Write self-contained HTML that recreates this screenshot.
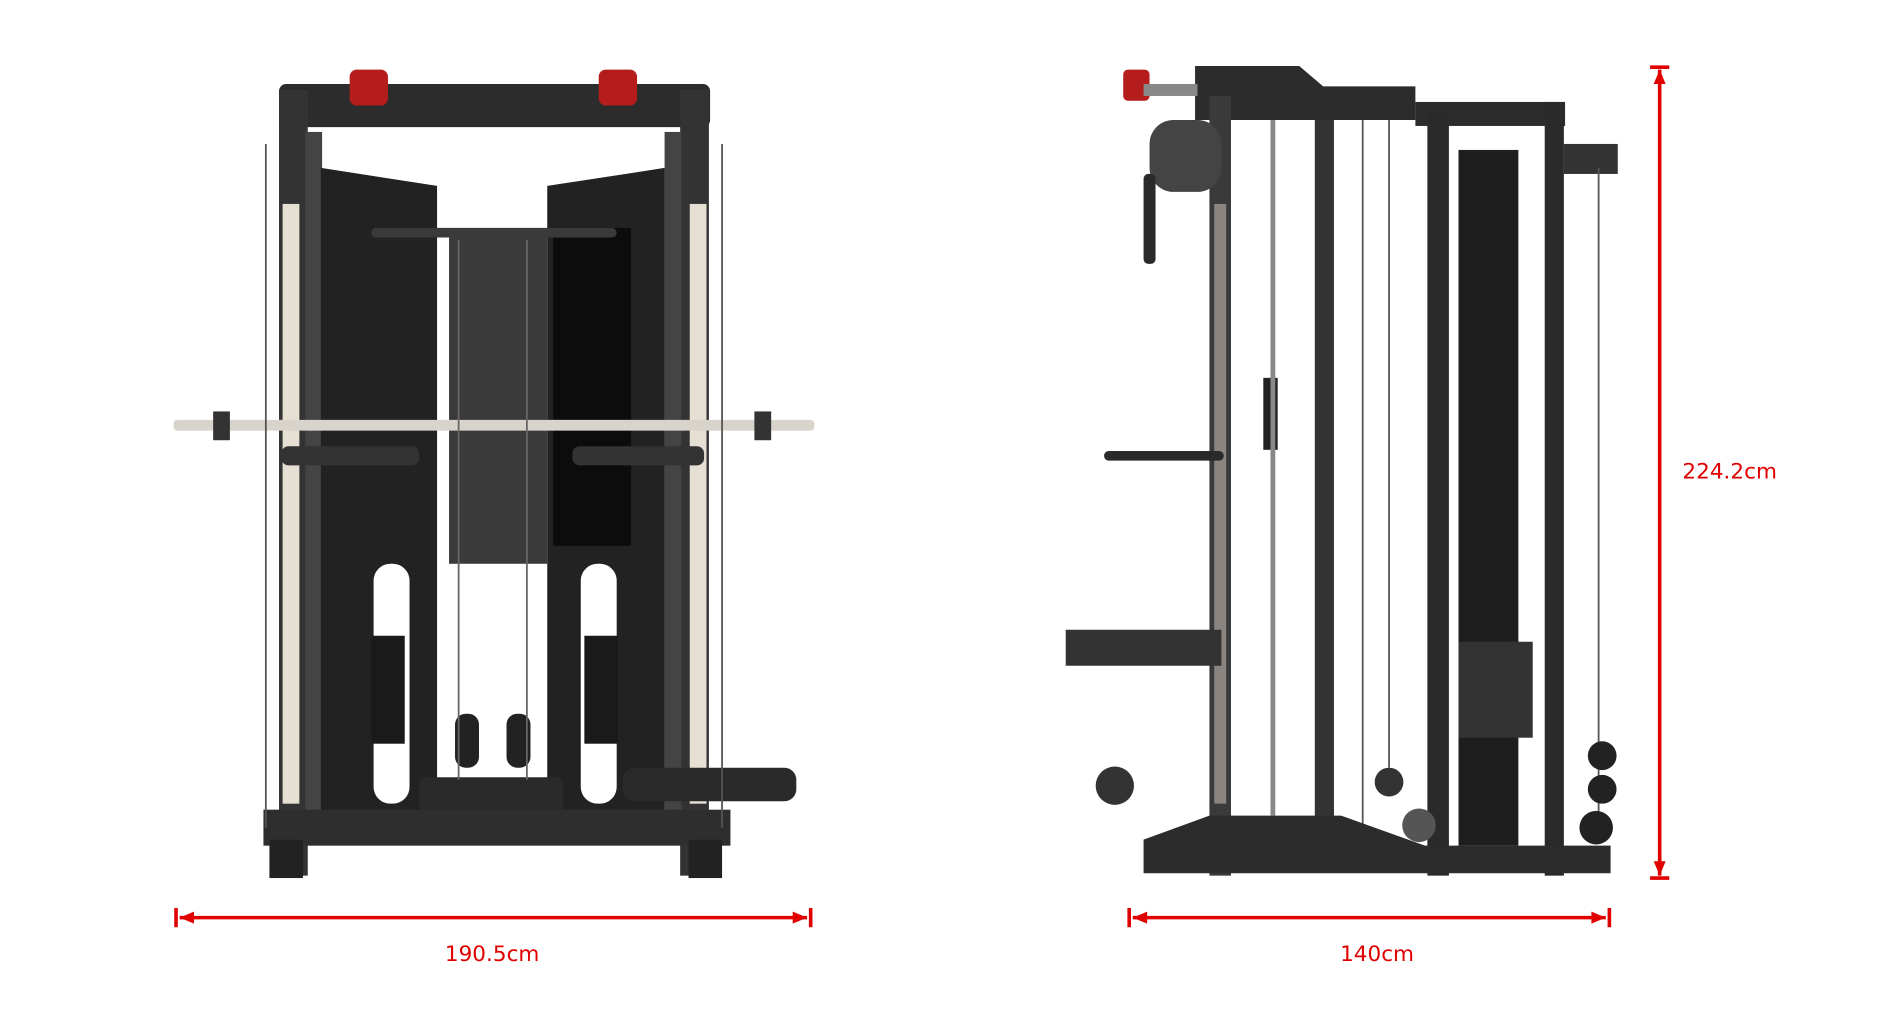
<!DOCTYPE html>
<html><head><meta charset="utf-8"><style>
html,body{margin:0;padding:0;background:#fff;width:1880px;height:1010px;overflow:hidden}
svg{display:block}
text{font-family:"DejaVu Sans","Liberation Sans",sans-serif;fill:#e00000;font-size:18px}
</style></head><body>
<svg width="1880" height="1010" viewBox="0 0 1570 842" preserveAspectRatio="none" xmlns="http://www.w3.org/2000/svg">
<!-- LEFT MACHINE -->
<g>
<rect x="233" y="70" width="360" height="36" rx="6" fill="#2c2c2c"/>
<rect x="292" y="58" width="32" height="30" rx="6" fill="#b51c1c"/>
<rect x="500" y="58" width="32" height="30" rx="6" fill="#b51c1c"/>
<rect x="233" y="75" width="24" height="655" fill="#333"/>
<rect x="568" y="75" width="24" height="655" fill="#333"/>
<rect x="236" y="170" width="14" height="500" fill="#e6e0d4"/>
<rect x="576" y="170" width="14" height="500" fill="#e6e0d4"/>
<rect x="255" y="110" width="14" height="590" fill="#444"/>
<rect x="555" y="110" width="14" height="590" fill="#444"/>
<polygon points="268,140 365,155 365,700 268,700" fill="#222"/>
<polygon points="457,155 555,140 555,700 457,700" fill="#222"/>
<rect x="462" y="190" width="65" height="265" fill="#0c0c0c"/>
<rect x="375" y="195" width="82" height="275" fill="#3a3a3a"/>
<rect x="310" y="190" width="205" height="8" rx="4" fill="#3a3a3a"/>
<rect x="145" y="350" width="535" height="9" rx="3" fill="#d8d4cc"/>
<rect x="178" y="343" width="14" height="24" fill="#333"/>
<rect x="630" y="343" width="14" height="24" fill="#333"/>
<rect x="235" y="372" width="115" height="16" rx="6" fill="#333"/>
<rect x="478" y="372" width="110" height="16" rx="6" fill="#333"/>
<rect x="312" y="470" width="30" height="200" rx="14" fill="#fff"/>
<rect x="485" y="470" width="30" height="200" rx="14" fill="#fff"/>
<rect x="310" y="530" width="28" height="90" fill="#1a1a1a"/>
<rect x="488" y="530" width="28" height="90" fill="#1a1a1a"/>
<rect x="380" y="595" width="20" height="45" rx="9" fill="#222"/>
<rect x="423" y="595" width="20" height="45" rx="9" fill="#222"/>
<rect x="350" y="648" width="120" height="30" rx="6" fill="#2a2a2a"/>
<rect x="520" y="640" width="145" height="28" rx="10" fill="#2a2a2a"/>
<rect x="220" y="675" width="390" height="30" fill="#2e2e2e"/>
<rect x="225" y="700" width="28" height="32" fill="#222"/>
<rect x="575" y="700" width="28" height="32" fill="#222"/>
<line x1="222" y1="120" x2="222" y2="690" stroke="#555" stroke-width="1.5"/>
<line x1="603" y1="120" x2="603" y2="690" stroke="#555" stroke-width="1.5"/>
<line x1="383" y1="200" x2="383" y2="650" stroke="#666" stroke-width="1.5"/>
<line x1="440" y1="200" x2="440" y2="650" stroke="#666" stroke-width="1.5"/>
</g>
<!-- RIGHT MACHINE -->
<g>
<polygon points="998,55 1085,55 1105,72 1182,72 1182,100 998,100" fill="#2c2c2c"/>
<rect x="938" y="58" width="22" height="26" rx="4" fill="#b51c1c"/>
<rect x="955" y="70" width="45" height="10" fill="#888"/>
<rect x="1010" y="80" width="18" height="650" fill="#3a3a3a"/>
<rect x="1014" y="170" width="10" height="500" fill="#8a8580"/>
<rect x="1098" y="100" width="16" height="600" fill="#333"/>
<rect x="1182" y="85" width="125" height="20" fill="#2c2c2c"/>
<rect x="1192" y="95" width="18" height="635" fill="#2a2a2a"/>
<rect x="1290" y="85" width="16" height="645" fill="#2a2a2a"/>
<rect x="1218" y="125" width="50" height="580" fill="#1e1e1e"/>
<rect x="1218" y="535" width="62" height="80" fill="#333"/>
<rect x="1306" y="120" width="45" height="25" fill="#333"/>
<rect x="960" y="100" width="60" height="60" rx="20" fill="#444"/>
<rect x="955" y="145" width="10" height="75" rx="4" fill="#2a2a2a"/>
<rect x="922" y="376" width="100" height="8" rx="4" fill="#2a2a2a"/>
<rect x="890" y="525" width="130" height="30" fill="#333"/>
<circle cx="931" cy="655" r="16" fill="#333"/>
<rect x="1055" y="315" width="12" height="60" fill="#222"/>
<line x1="1063" y1="100" x2="1063" y2="680" stroke="#888" stroke-width="4"/>
<line x1="1138" y1="100" x2="1138" y2="690" stroke="#555" stroke-width="1.5"/>
<line x1="1160" y1="100" x2="1160" y2="640" stroke="#555" stroke-width="1.5"/>
<line x1="1335" y1="140" x2="1335" y2="690" stroke="#555" stroke-width="1.5"/>
<circle cx="1160" cy="652" r="12" fill="#333"/>
<circle cx="1185" cy="688" r="14" fill="#555"/>
<circle cx="1338" cy="630" r="12" fill="#222"/>
<circle cx="1338" cy="658" r="12" fill="#222"/>
<circle cx="1333" cy="690" r="14" fill="#222"/>
<polygon points="955,700 1010,680 1120,680 1190,705 1345,705 1345,728 955,728" fill="#2c2c2c"/>
</g>
<!-- DIMENSIONS -->
<g stroke="#e00000" stroke-width="3" fill="#e00000">
<line x1="150" y1="765" x2="674" y2="765"/>
<line x1="147" y1="757" x2="147" y2="773"/>
<line x1="677" y1="757" x2="677" y2="773"/>
<polygon points="150,765 162,760 162,770" stroke="none"/>
<polygon points="674,765 662,760 662,770" stroke="none"/>
<line x1="946" y1="765" x2="1341" y2="765"/>
<line x1="943" y1="757" x2="943" y2="773"/>
<line x1="1344" y1="757" x2="1344" y2="773"/>
<polygon points="946,765 958,760 958,770" stroke="none"/>
<polygon points="1341,765 1329,760 1329,770" stroke="none"/>
<line x1="1386" y1="58" x2="1386" y2="730"/>
<line x1="1378" y1="56" x2="1394" y2="56"/>
<line x1="1378" y1="732" x2="1394" y2="732"/>
<polygon points="1386,58 1381,70 1391,70" stroke="none"/>
<polygon points="1386,730 1381,718 1391,718" stroke="none"/>
</g>
<text x="411" y="801" text-anchor="middle">190.5cm</text>
<text x="1150" y="801" text-anchor="middle">140cm</text>
<text x="1405" y="399">224.2cm</text>
</svg>
</body></html>
